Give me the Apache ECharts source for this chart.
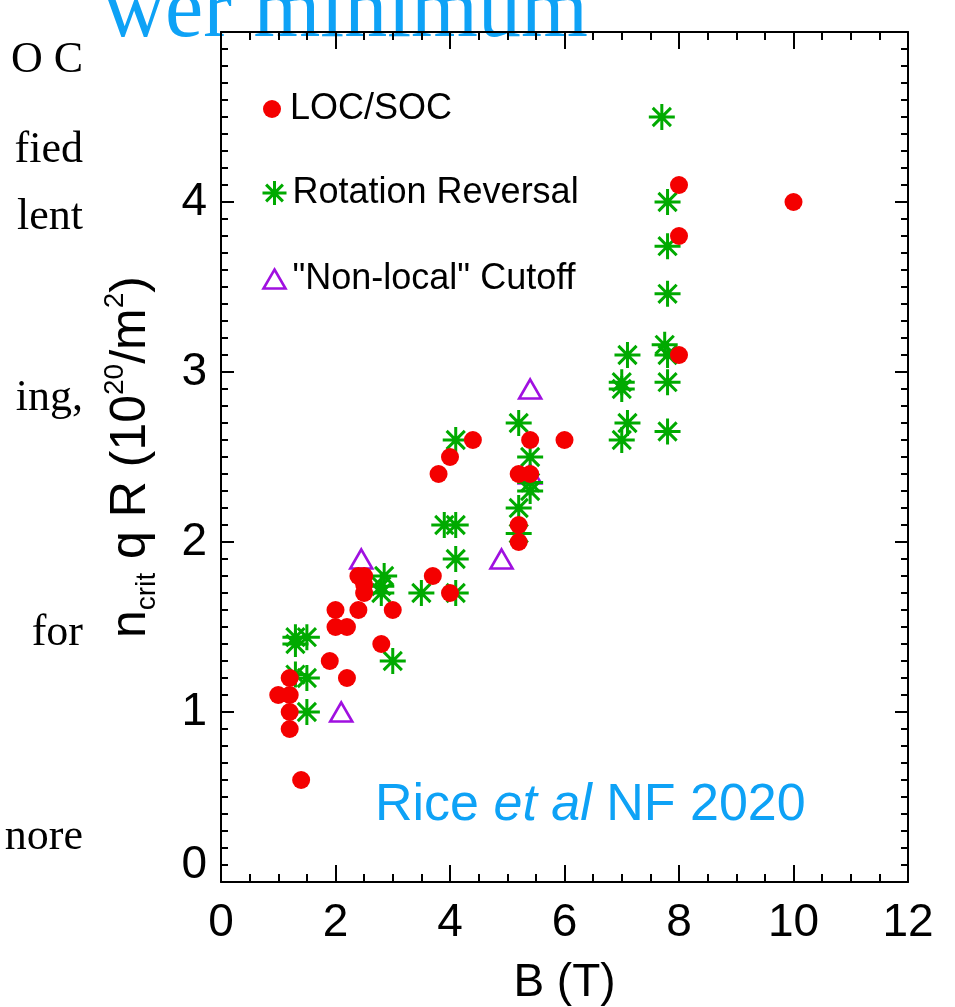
<!DOCTYPE html>
<html>
<head>
<meta charset="utf-8">
<title>ncrit q R vs B</title>
<script src="https://cdn.jsdelivr.net/npm/echarts@6.0.0/dist/echarts.min.js"></script>
<style>
  html, body { margin: 0; padding: 0; background: #fff; }
  #chart { width: 955px; height: 1007px; }
</style>
</head>
<body>
<div id="chart"></div>
<script>
// [B (T), ncrit q R (10^20/m^2)]
const locSoc = [
  [10.0, 4.0], [8.0, 4.1], [8.0, 3.8], [8.0, 3.1], [6.0, 2.6], [5.4, 2.6],
  [4.4, 2.6], [4.0, 2.5], [3.8, 2.4], [5.2, 2.4], [5.4, 2.4], [5.2, 2.1],
  [5.2, 2.0], [3.7, 1.8], [4.0, 1.7], [2.4, 1.8], [2.5, 1.8], [2.5, 1.75],
  [2.5, 1.7], [2.4, 1.6], [2.0, 1.6], [3.0, 1.6], [2.0, 1.5], [2.2, 1.5],
  [2.8, 1.4], [1.9, 1.3], [2.2, 1.2], [1.2, 1.2], [1.0, 1.1], [1.2, 1.1],
  [1.2, 1.0], [1.2, 0.9], [1.4, 0.6]
];
const rotationReversal = [
  [7.7, 4.5], [7.8, 4.0], [7.8, 3.74], [7.8, 3.46], [7.75, 3.16], [7.8, 3.1],
  [7.1, 3.1], [7.0, 2.94], [7.0, 2.9], [7.8, 2.94], [7.1, 2.7], [7.0, 2.6],
  [7.8, 2.65], [4.1, 2.6], [5.2, 2.7], [5.4, 2.5], [5.4, 2.35], [5.4, 2.3],
  [5.2, 2.2], [5.2, 2.05], [3.9, 2.1], [4.1, 2.1], [4.1, 1.9], [4.1, 1.7],
  [3.5, 1.7], [2.85, 1.8], [2.8, 1.74], [2.8, 1.7], [3.0, 1.3], [1.3, 1.44],
  [1.5, 1.44], [1.3, 1.4], [1.5, 1.2], [1.3, 1.22], [1.5, 1.0]
];
const nonLocalCutoff = [
  [5.4, 2.9], [5.4, 2.4], [2.45, 1.9], [4.9, 1.9], [2.1, 1.0]
];

const seriesNames = ['LOC/SOC', 'Rotation Reversal', '"Non-local" Cutoff'];
const xRange = [0, 12];
const yRange = [0, 5];

const RED = '#f40000';
const GREEN = '#00aa00';
const PURPLE = '#a010e0';
const BLUE = '#0ea2f6';
const SANS = '"Liberation Sans", Helvetica, Arial, sans-serif';
const SERIF = '"Liberation Serif", "Times New Roman", serif';
const ASTERISK = 'path://M10 0L10 20M0 10L20 10M3 3L17 17M17 3L3 17';

const chart = echarts.init(document.getElementById('chart'));

// box axis helper: bottom/top x, left/right y
function makeAxis(position, isX, withLabels) {
  const axis = {
    type: 'value',
    position: position,
    min: isX ? xRange[0] : yRange[0],
    max: isX ? xRange[1] : yRange[1],
    interval: isX ? 2 : 1,
    splitLine: { show: false },
    axisLine: { show: true, onZero: false, lineStyle: { color: '#000', width: 2 } },
    axisTick: { show: true, inside: true, length: isX ? 17 : 13, lineStyle: { color: '#000', width: 2 } },
    minorTick: { show: true, splitNumber: isX ? 4 : 10, length: isX ? 8 : 7, lineStyle: { color: '#000', width: 2 } },
    axisLabel: { show: false }
  };
  if (withLabels) {
    axis.axisLabel = {
      show: true,
      color: '#000',
      fontSize: 46,
      fontFamily: SANS,
      margin: isX ? 18 : 14,
      showMinLabel: true,
      showMaxLabel: true
    };
    if (!isX) {
      // the 0 label sits a bit above its tick in the original
      axis.axisLabel.formatter = function(v) {
        if (v === 0) return '{z|0}';
        if (v === yRange[1]) return '';
        return String(v);
      };
      axis.axisLabel.rich = {
        z: { fontSize: 46, fontFamily: SANS, color: '#000', padding: [0, 0, 34, 0] }
      };
    }
  }
  return axis;
}

const xBottom = makeAxis('bottom', true, true);
xBottom.name = 'B (T)';
xBottom.nameLocation = 'middle';
xBottom.nameGap = 78;
xBottom.nameTextStyle = { fontSize: 46, fontFamily: SANS, color: '#000' };

const yLeft = makeAxis('left', false, true);
yLeft.name = '{n|n}{sub|crit}{n| q R (10}{sup|20}{n|/m}{sup|2}{n|)}';
yLeft.nameLocation = 'middle';
yLeft.nameRotate = 90;
yLeft.nameGap = 60;
yLeft.nameTextStyle = {
  color: '#000',
  fontFamily: SANS,
  rich: {
    n: { fontSize: 50, lineHeight: 60, fontFamily: SANS, color: '#000' },
    sub: { fontSize: 28, lineHeight: 28, verticalAlign: 'bottom', fontFamily: SANS, color: '#000' },
    sup: { fontSize: 28, lineHeight: 28, verticalAlign: 'top', fontFamily: SANS, color: '#000' }
  }
};

function legendBox(name, left, top, w, h, icon, itemStyle, pad) {
  return {
    left: left,
    top: top,
    padding: 0,
    itemWidth: w,
    itemHeight: h,
    selectedMode: false,
    data: [{ name: name, icon: icon, itemStyle: itemStyle }],
    textStyle: { fontSize: 36, fontFamily: SANS, color: '#000', lineHeight: h, padding: [0, 0, 0, pad] }
  };
}

const option = {
  animation: false,
  backgroundColor: '#fff',
  grid: { left: 221, top: 32, width: 687, height: 850, outerBoundsMode: 'none' },
  xAxis: [xBottom, makeAxis('top', true, false)],
  yAxis: [yLeft, makeAxis('right', false, false)],
  legend: [
    legendBox(seriesNames[0], 263, 91, 18, 18, 'circle', { color: RED, opacity: 1 }, 4),
    legendBox(seriesNames[1], 260, 175, 24, 24, ASTERISK,
      { color: 'none', borderColor: GREEN, borderWidth: 3, opacity: 1 }, 1),
    legendBox(seriesNames[2], 261, 261, 22, 19, 'triangle',
      { color: 'none', borderColor: PURPLE, borderWidth: 2.6, opacity: 1 }, 2)
  ],
  series: [
    {
      name: seriesNames[2],
      type: 'scatter',
      data: nonLocalCutoff,
      symbol: 'triangle',
      symbolSize: [22, 19],
      itemStyle: { color: 'none', borderColor: PURPLE, borderWidth: 2.6, opacity: 1 }
    },
    {
      name: seriesNames[1],
      type: 'scatter',
      data: rotationReversal,
      symbol: ASTERISK,
      symbolSize: 26,
      itemStyle: { color: 'none', borderColor: GREEN, borderWidth: 3, opacity: 1 }
    },
    {
      name: seriesNames[0],
      type: 'scatter',
      data: locSoc,
      symbol: 'circle',
      symbolSize: 18,
      itemStyle: { color: RED, opacity: 1 }
    }
  ],
  graphic: {
    elements: [
      // cut-off slide title and body text around the plot
      { type: 'text', x: 103, y: 56, style: { text: 'wer minimum', fill: BLUE, font: '86px ' + SERIF, verticalAlign: 'bottom' } },
      { type: 'text', x: 83, y: 60, style: { text: 'O C', fill: '#000', font: '44px ' + SERIF, align: 'right', verticalAlign: 'middle' } },
      { type: 'text', x: 83, y: 150, style: { text: 'fied', fill: '#000', font: '44px ' + SERIF, align: 'right', verticalAlign: 'middle' } },
      { type: 'text', x: 83, y: 217, style: { text: 'lent', fill: '#000', font: '44px ' + SERIF, align: 'right', verticalAlign: 'middle' } },
      { type: 'text', x: 83, y: 398, style: { text: 'ing,', fill: '#000', font: '44px ' + SERIF, align: 'right', verticalAlign: 'middle' } },
      { type: 'text', x: 83, y: 633, style: { text: 'for', fill: '#000', font: '44px ' + SERIF, align: 'right', verticalAlign: 'middle' } },
      { type: 'text', x: 83, y: 837, style: { text: 'nore', fill: '#000', font: '44px ' + SERIF, align: 'right', verticalAlign: 'middle' } },
      // citation inside the plot
      {
        type: 'text',
        x: 375,
        y: 806,
        style: {
          text: '{a|Rice }{b|et al}{a| NF 2020}',
          verticalAlign: 'middle',
          rich: {
            a: { fontSize: 52, fontFamily: SANS, fill: BLUE },
            b: { fontSize: 52, fontFamily: SANS, fontStyle: 'italic', fill: BLUE }
          }
        }
      }
    ]
  }
};

chart.setOption(option);
</script>
</body>
</html>
